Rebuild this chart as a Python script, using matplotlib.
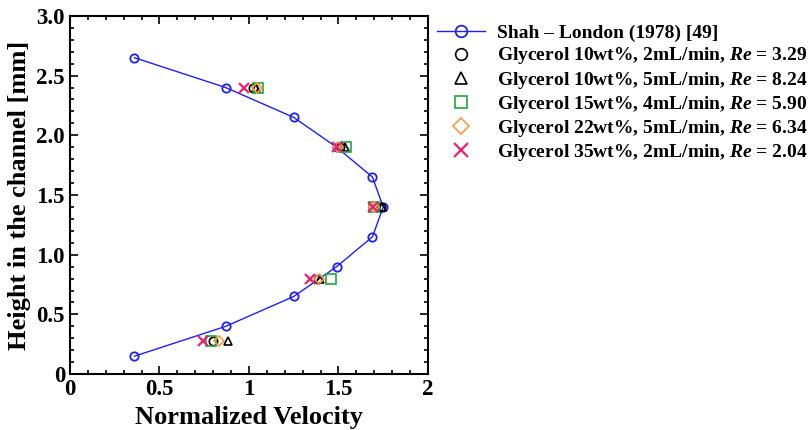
import matplotlib.pyplot as plt
from matplotlib.ticker import MultipleLocator, FixedLocator, FixedFormatter

plt.rcParams['font.family'] = ['Liberation Serif', 'DejaVu Serif']
plt.rcParams['font.weight'] = 'bold'
plt.rcParams['mathtext.fontset'] = 'custom'
plt.rcParams['mathtext.it'] = 'Liberation Serif:italic:bold'
plt.rcParams['mathtext.rm'] = 'Liberation Serif:bold'

# Shah - London analytical profile
shah_v = [0.36, 0.87, 1.25, 1.49, 1.69, 1.75, 1.69, 1.49, 1.25, 0.87, 0.36]
shah_h = [0.15, 0.40, 0.65, 0.90, 1.15, 1.40, 1.65, 1.90, 2.15, 2.40, 2.65]

# measurement heights
exp_h = [0.275, 0.8, 1.4, 1.9, 2.4]

g10_2 = [0.80, 1.385, 1.737, 1.51, 1.02]
g10_5 = [0.885, 1.397, 1.745, 1.535, 1.04]
g15_4 = [0.79, 1.46, 1.70, 1.54, 1.05]
g22_5 = [0.835, 1.39, 1.70, 1.50, 1.043]
g35_2 = [0.745, 1.34, 1.695, 1.49, 0.97]

labels = [
    'Shah – London (1978) [49]',
    'Glycerol 10wt%, 2mL/min, $Re$ = 3.29',
    'Glycerol 10wt%, 5mL/min, $Re$ = 8.24',
    'Glycerol 15wt%, 4mL/min, $Re$ = 5.90',
    'Glycerol 22wt%, 5mL/min, $Re$ = 6.34',
    'Glycerol 35wt%, 2mL/min, $Re$ = 2.04',
]

fig = plt.figure(figsize=(8.09, 4.30), dpi=100)
ax = fig.add_axes([0.0865, 0.130, 0.4425, 0.833])

ax.plot(shah_v, shah_h, '-o', color='#1f1fff', lw=1.0, ms=6, mfc='none',
        mew=1.3, label=labels[0])
ax.plot(g10_2, exp_h, 'o', color='black', ms=6, mfc='none', mew=1.2, label=labels[1])
ax.plot(g10_5, exp_h, '^', color='black', ms=6, mfc='none', mew=1.2, label=labels[2])
ax.plot(g15_4, exp_h, 's', color='#1fa83a', ms=6.5, mfc='none', mew=1.2, label=labels[3])
ax.plot(g22_5, exp_h, 'D', color='#ff9a3c', ms=5.5, mfc='none', mew=1.2, label=labels[4])
ax.plot(g35_2, exp_h, 'x', color='#f0206e', ms=7, mew=1.6, label=labels[5])

ax.set_xlim(0, 2)
ax.set_ylim(0, 3)
ax.xaxis.set_major_locator(FixedLocator([0, 0.5, 1, 1.5, 2]))
ax.xaxis.set_major_formatter(FixedFormatter(['0', '0.5', '1', '1.5', '2']))
ax.yaxis.set_major_locator(FixedLocator([0, 0.5, 1, 1.5, 2, 2.5, 3]))
ax.yaxis.set_major_formatter(FixedFormatter(['0', '0.5', '1.0', '1.5', '2.0', '2.5', '3.0']))
ax.xaxis.set_minor_locator(MultipleLocator(0.1))
ax.yaxis.set_minor_locator(MultipleLocator(0.1))
ax.tick_params(which='both', direction='in', top=True, right=True, width=1.2)
ax.tick_params(which='major', length=6, labelsize=16.5)
ax.tick_params(which='minor', length=3)
for s in ax.spines.values():
    s.set_linewidth(1.5)

ax.set_xlabel('Normalized Velocity', fontsize=19, fontweight='bold')
ax.set_ylabel('Height in the channel [mm]', fontsize=19, fontweight='bold')

ax.legend(loc='upper left', bbox_to_anchor=(1.0, 1.0), frameon=False,
          fontsize=14.0, markerscale=1.4, handlelength=2.5,
          handletextpad=0.6, labelspacing=0.16, borderaxespad=0.0,
          borderpad=0.45)

fig.savefig('out.png', dpi=100)
